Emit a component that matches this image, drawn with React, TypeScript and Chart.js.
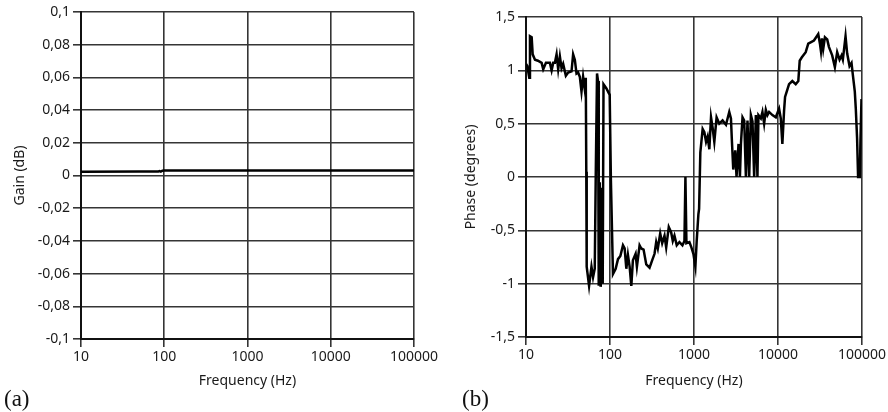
import React, { useEffect, useRef } from "react";
import { Chart, registerables } from "chart.js";

Chart.register(...registerables);

const freqTicks = [10, 100, 1000, 10000, 100000];

const gainFreq = [10, 50, 85, 88, 91, 95, 100, 1000, 10000, 100000];
const gainDb = [0.0023, 0.0024, 0.0025, 0.0027, 0.0024, 0.0029, 0.003, 0.003, 0.003, 0.003];

const phaseFreq = [
  10.0, 10.36, 10.94, 11.15, 11.68, 12.01, 12.79, 13.88, 15.36, 16.04,
  17.27, 19.26, 20.18, 21.08, 22.08, 23.13, 24.17, 25.31, 26.51, 27.7,
  29.82, 31.76, 34.84, 36.4, 38.13, 39.94, 41.72, 43.71, 45.79, 47.83,
  50.11, 51.5, 52.21, 52.79, 56.35, 60.17, 62.85, 65.83, 67.65, 70.09,
  72.04, 73.43, 75.47, 77.56, 79.7, 81.91, 83.72, 90.63, 99.18, 102.5,
  108.5, 116.8, 124.5, 132.9, 142.7, 149.4, 156.5, 163.5, 171.3, 179.4,
  187.4, 201.8, 209.1, 225.1, 235.8, 251.0, 270.3, 295.8, 318.4, 339.0,
  355.1, 371.0, 396.2, 418.4, 445.6, 466.7, 501.0, 535.1, 559.0, 585.6,
  623.5, 671.1, 728.6, 769.6, 790.7, 812.6, 881.9, 931.6, 983.8, 1039,
  1077, 1128, 1150, 1190, 1268, 1329, 1392, 1454, 1523, 1595,
  1667, 1746, 1859, 2001, 2190, 2403, 2630, 2754, 2831, 2934,
  3098, 3210, 3390, 3523, 3620, 3783, 3962, 4150, 4335, 4541,
  4757, 4970, 5206, 5453, 5696, 5855, 6252, 6531, 6841, 7166,
  7487, 7844, 8584, 9417, 10305, 10795, 11277, 11814, 12142, 12929,
  13545, 14823, 16266, 17458, 18140, 19156, 21373, 22941, 26814, 30150,
  31580, 32460, 33360, 34560, 36200, 38550, 40400, 44190, 47570, 50660,
  54090, 57130, 59190, 63740, 66590, 71100, 75080, 77800, 82150, 84430,
  87480, 89890, 94170, 95990, 98650,
];
const phaseDeg = [
  1.06, 1.04, 0.93, 1.32, 1.31, 1.15, 1.1, 1.09, 1.07, 1.01,
  1.07, 1.07, 1.0, 1.07, 1.07, 1.15, 1.01, 1.13, 1.02, 1.06,
  0.95, 0.98, 0.99, 1.15, 1.1, 0.97, 0.98, 0.94, 0.8, 0.94,
  0.82, 0.93, 0.05, -0.84, -1.02, -0.84, -0.94, -0.86, 0.0, 0.97,
  0.9, -1.02, -0.05, -1.03, -0.1, -1.0, 0.87, 0.83, 0.77, -0.03,
  -0.91, -0.86, -0.77, -0.74, -0.64, -0.67, -0.86, -0.73, -0.84, -1.02,
  -0.78, -0.72, -0.84, -0.64, -0.67, -0.68, -0.82, -0.85, -0.78, -0.72,
  -0.61, -0.67, -0.53, -0.62, -0.55, -0.66, -0.47, -0.52, -0.6, -0.55,
  -0.64, -0.61, -0.64, -0.6, 0.0, -0.62, -0.61, -0.66, -0.72, -0.84,
  -0.6, -0.35, -0.3, 0.23, 0.45, 0.42, 0.33, 0.38, 0.26, 0.56,
  0.46, 0.33, 0.56, 0.5, 0.53, 0.49, 0.61, 0.55, 0.33, 0.07,
  0.25, 0.0, 0.31, 0.0, 0.31, 0.56, 0.53, 0.0, 0.53, 0.0,
  0.58, 0.52, 0.0, 0.58, 0.0, 0.58, 0.55, 0.61, 0.5, 0.63,
  0.58, 0.61, 0.58, 0.56, 0.64, 0.55, 0.31, 0.62, 0.75, 0.82,
  0.87, 0.9, 0.87, 0.9, 1.09, 1.12, 1.17, 1.25, 1.28, 1.34,
  1.25, 1.18, 1.3, 1.2, 1.31, 1.29, 1.22, 1.14, 1.03, 1.17,
  1.1, 1.14, 1.1, 1.32, 1.16, 1.04, 1.07, 0.96, 0.8, 0.64,
  0.36, 0.0, 0.0, 0.35, 0.73,
];

const gainTicks = [-0.1, -0.08, -0.06, -0.04, -0.02, 0, 0.02, 0.04, 0.06, 0.08, 0.1];
const phaseTicks = [-1.5, -1, -0.5, 0, 0.5, 1, 1.5];

const FONT = "'Noto Sans', 'Open Sans', sans-serif";
const GRID = "#353535";
const TEXT = "#1a1a1a";
const FS = 14;

function fmt(v: number) {
  const r = Math.round(v * 100) / 100;
  return String(r).replace(".", ",");
}

function makeOptions(opts: {
  yMin: number; yMax: number; yTicks: number[]; yTitle: string;
  yWidth: number; xHeight: number; padTop: number; padRight: number; yTitlePad: number;
}) {
  return {
    responsive: false,
    animation: false as const,
    devicePixelRatio: 1,
    layout: { padding: { left: 0, top: opts.padTop, right: opts.padRight, bottom: 0 } },
    plugins: { legend: { display: false }, tooltip: { enabled: false } },
    scales: {
      x: {
        type: "logarithmic" as const,
        min: 10,
        max: 100000,
        afterBuildTicks: (s: any) => { s.ticks = freqTicks.map((v) => ({ value: v })); },
        afterFit: (s: any) => { s.height = opts.xHeight; },
        ticks: {
          autoSkip: false, maxRotation: 0, padding: 2, color: TEXT,
          font: { family: FONT, size: FS },
          callback: (v: any) => String(v),
        },
        grid: { color: GRID, lineWidth: 1.6, tickLength: 8, drawTicks: true },
        border: { color: "#111", width: 2 },
        title: {
          display: true, text: "Frequency (Hz)", color: TEXT,
          font: { family: FONT, size: FS }, padding: { top: 0, bottom: 22.6 },
        },
      },
      y: {
        type: "linear" as const,
        min: opts.yMin,
        max: opts.yMax,
        afterBuildTicks: (s: any) => { s.ticks = opts.yTicks.map((v) => ({ value: v })); },
        afterFit: (s: any) => { s.width = opts.yWidth; },
        ticks: {
          autoSkip: false, padding: 3, color: TEXT,
          font: { family: FONT, size: FS },
          callback: (v: any) => fmt(Number(v)),
        },
        grid: { color: GRID, lineWidth: 1.6, tickLength: 8, drawTicks: true },
        border: { color: "#111", width: 2 },
        title: {
          display: true, text: opts.yTitle, color: TEXT,
          font: { family: FONT, size: FS }, padding: { top: opts.yTitlePad, bottom: 0 },
        },
      },
    },
  };
}

function PlotCanvas(props: { kind: "gain" | "phase"; width: number; left: number }) {
  const ref = useRef<HTMLCanvasElement | null>(null);
  useEffect(() => {
    if (!ref.current) return;
    const isGain = props.kind === "gain";
    const xs = isGain ? gainFreq : phaseFreq;
    const ys = isGain ? gainDb : phaseDeg;
    const data = xs.map((x, i) => ({ x, y: ys[i] }));
    const options = isGain
      ? makeOptions({ yMin: -0.1, yMax: 0.1, yTicks: gainTicks, yTitle: "Gain (dB)", yWidth: 81, xHeight: 73, padTop: 12, padRight: 23, yTitlePad: 11.6 })
      : makeOptions({ yMin: -1.5, yMax: 1.5, yTicks: phaseTicks, yTitle: "Phase (degrees)", yWidth: 86, xHeight: 75, padTop: 17, padRight: 25, yTitlePad: 22.6 });
    const chart = new Chart(ref.current, {
      type: "line",
      data: {
        datasets: [{
          data,
          borderColor: "#000",
          borderWidth: 2.5,
          pointRadius: 0,
          tension: 0,
          fill: false,
        }],
      },
      options: options as any,
    });
    return () => chart.destroy();
  }, [props.kind]);
  return (
    <canvas
      ref={ref}
      width={props.width}
      height={412}
      style={{ position: "absolute", left: props.left, top: 0, width: props.width, height: 412 }}
    />
  );
}

export default function App() {
  const labelStyle: React.CSSProperties = {
    position: "absolute", top: 387, fontFamily: "'Liberation Serif', serif",
    fontSize: 23, lineHeight: "23px", color: "#111",
  };
  return (
    <div style={{ position: "absolute", left: 0, top: 0, width: 888, height: 412, background: "#fff", overflow: "hidden" }}>
      <PlotCanvas kind="gain" width={440} left={0} />
      <PlotCanvas kind="phase" width={448} left={440} />
      <div style={{ ...labelStyle, left: 4 }}>(a)</div>
      <div style={{ ...labelStyle, left: 462 }}>(b)</div>
    </div>
  );
}
